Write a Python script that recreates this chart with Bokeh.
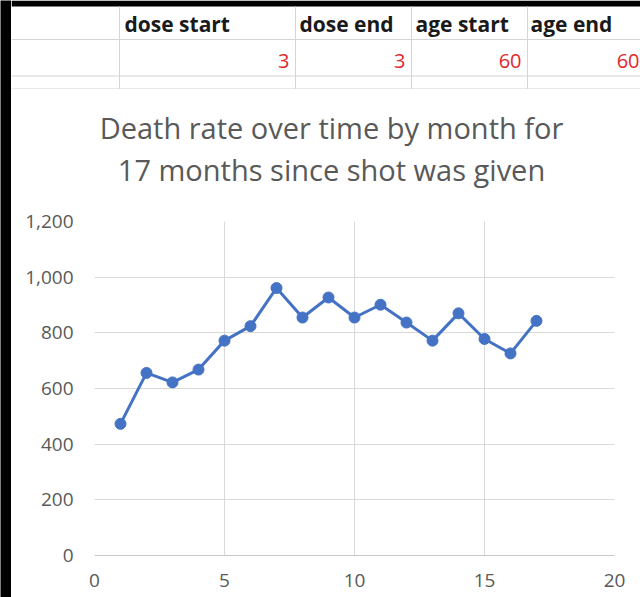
from bokeh.plotting import figure
from bokeh.models import Range1d, NumeralTickFormatter, FixedTicker
from bokeh.layouts import row, column
from bokeh.embed import file_html
from bokeh.resources import INLINE
from bokeh.core.properties import value

# ---- data ----
months = list(range(1, 18))
death_rate = [473, 656, 622, 668, 772, 824, 961, 855, 927, 855, 901, 837, 772, 870, 778, 726, 843]
x_ticks = [0, 5, 10, 15, 20]
y_ticks = [0, 200, 400, 600, 800, 1000, 1200]
title_lines = ["Death rate over time by month for", "17 months since shot was given"]
sheet_headers = ["dose start", "dose end", "age start", "age end"]
sheet_values = ["3", "3", "60", "60"]

FONT = "Open Sans"
GRID = "#d9d9d9"
TXT = "#595959"
BLUE = "#4472C4"

W = 640
H = 597


def blank(width, height, xr, yr, bg="white"):
    f = figure(width=width, height=height, x_range=xr, y_range=yr,
               x_axis_location=None, y_axis_location=None, output_backend="svg",
               toolbar_location=None, min_border=0, frame_align=False)
    f.grid.visible = False
    f.background_fill_color = bg
    f.border_fill_color = bg
    f.outline_line_color = None
    return f


# ---- black strip at left ----
strip = blank(11, H, Range1d(0, 1), Range1d(0, 1), bg="black")

# ---- spreadsheet header (screen-like coords) ----
sheet = blank(W - 11, 89, Range1d(11, W), Range1d(89, 0))
sheet.quad(left=[11], right=[W], top=[0], bottom=[6], fill_color="black", line_color=None)
col_x = [119, 295, 411, 527]
sheet.segment(x0=col_x, y0=[6] * 4, x1=col_x, y1=[89] * 4, line_color="#d4d4d4", line_width=1)
row_y = [39, 75.5, 88.5]
sheet.segment(x0=[11] * 3, y0=row_y, x1=[W] * 3, y1=row_y, line_color="#d4d4d4", line_width=1.2)

header_x = [124, 299, 415, 530]
sheet.text(x=header_x, y=[23] * 4, text=sheet_headers, text_font=value(FONT),
           text_font_size="21px", text_font_style="bold", text_baseline="alphabetic",
           text_align="left", text_color="#1a1a1a")
value_right = [289, 405, 521, 639]
sheet.text(x=value_right, y=[60] * 4, text=sheet_values, text_font=value(FONT),
           text_font_size="20px", text_baseline="alphabetic", text_align="right",
           text_color="#e0282e")

# ---- chart title ----
tfig = blank(W - 11, 116, Range1d(11, W), Range1d(205, 89))
tfig.text(x=[331, 331], y=[127, 169], text=title_lines, text_font=value(FONT),
          text_font_size="29px", text_baseline="middle", text_align="center",
          text_color=TXT)

# ---- chart ----
p = figure(width=W - 11, height=H - 205, x_range=Range1d(0, 20), y_range=Range1d(0, 1200),
           output_backend="svg", toolbar_location=None, frame_align=False,
           min_border_left=83, min_border_right=26, min_border_top=16, min_border_bottom=42)
p.background_fill_color = "white"
p.border_fill_color = "white"
p.outline_line_color = None

p.xaxis.ticker = FixedTicker(ticks=x_ticks)
p.yaxis.ticker = FixedTicker(ticks=y_ticks)
p.yaxis.formatter = NumeralTickFormatter(format="0,0")
p.grid.grid_line_color = GRID
p.grid.grid_line_width = 1
p.axis.axis_line_color = None
p.xaxis.axis_line_color = "#c6c6c6"
p.axis.major_tick_line_color = None
p.axis.minor_tick_line_color = None
p.axis.major_tick_out = 0
p.axis.major_tick_in = 0
p.axis.major_label_text_font = FONT
p.axis.major_label_text_font_size = "19px"
p.axis.major_label_text_color = TXT
p.xaxis.major_label_standoff = 18
p.yaxis.major_label_standoff = 21

p.line(months, death_rate, line_color=BLUE, line_width=3)
p.scatter(months, death_rate, size=11, fill_color=BLUE, line_color=BLUE)

layout = row(strip, column(sheet, tfig, p))
open("out.html", "w").write(file_html(layout, INLINE))
